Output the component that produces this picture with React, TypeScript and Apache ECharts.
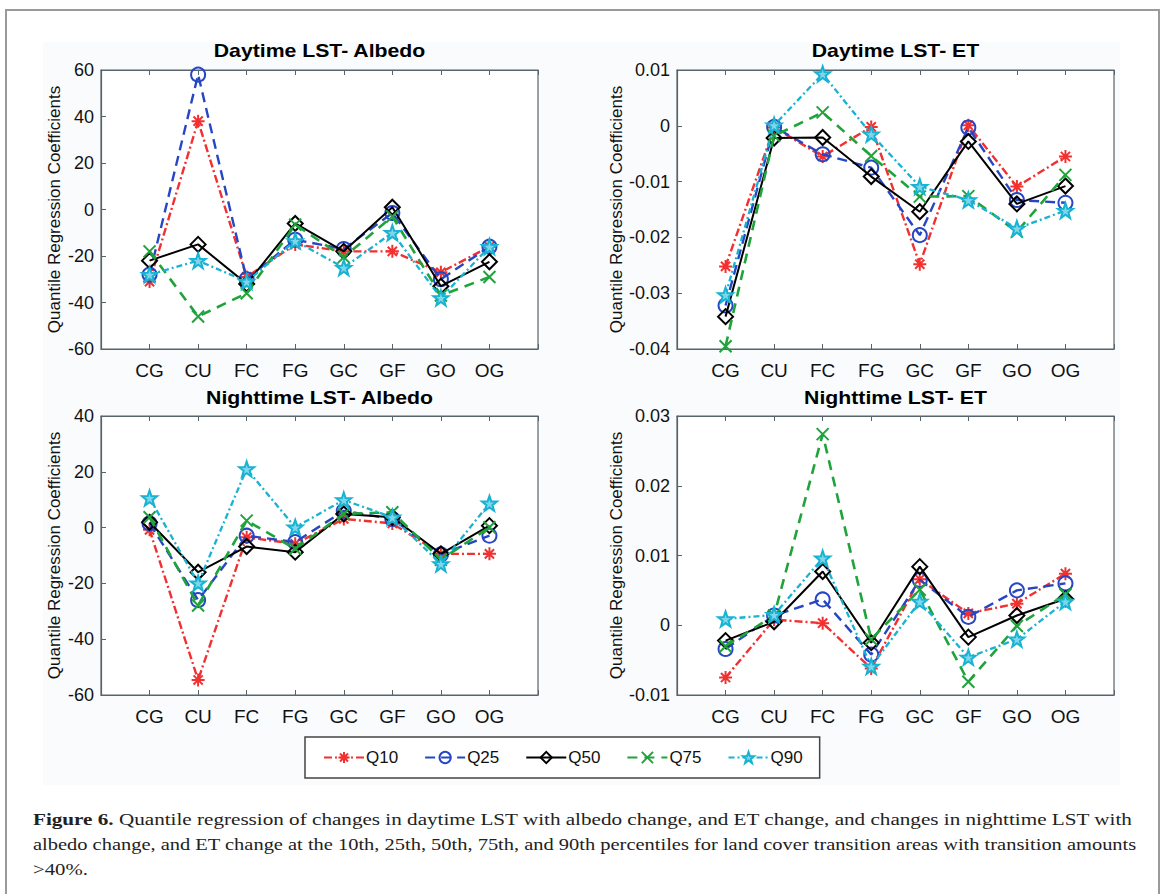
import React, { useEffect, useRef } from "react";
import * as echarts from "echarts";

const categories = ["CG", "CU", "FC", "FG", "GC", "GF", "GO", "OG"];
const quantiles = ["Q10", "Q25", "Q50", "Q75", "Q90"];

const dayAlbedoQ10 = [-31, 38, -29, -15, -18, -18, -27, -16];
const dayAlbedoQ25 = [-28, 58, -30, -13, -17, -1.5, -30, -16];
const dayAlbedoQ50 = [-22, -15, -32, -6, -18, 1, -33, -22.5];
const dayAlbedoQ75 = [-18, -46, -36, -6.5, -20.5, -3, -37, -29];
const dayAlbedoQ90 = [-28, -22, -31, -13.5, -25, -10, -38, -16];

const dayETQ10 = [-0.0252, -0.0003, -0.0055, -0.0002, -0.0248, 0.0001, -0.0109, -0.0055];
const dayETQ25 = [-0.0322, -0.0002, -0.0051, -0.0075, -0.0196, -0.0003, -0.0133, -0.0138];
const dayETQ50 = [-0.0342, -0.0022, -0.0021, -0.0091, -0.0154, -0.0028, -0.014, -0.0108];
const dayETQ75 = [-0.0395, -0.0018, 0.0024, -0.0054, -0.0127, -0.0126, -0.019, -0.0088];
const dayETQ90 = [-0.0303, 0.0001, 0.0093, -0.0015, -0.0109, -0.0133, -0.0184, -0.0152];

const nightAlbedoQ10 = [-0.8, -54.6, -3.5, -5.8, 3.1, 1.5, -9.4, -9.4];
const nightAlbedoQ25 = [1.5, -26, -2.9, -5.2, 6, 3.1, -9.6, -2.9];
const nightAlbedoQ50 = [1.9, -16, -6.8, -8.8, 4.9, 3.7, -9.4, 0.7];
const nightAlbedoQ75 = [3.7, -27.9, 2.5, -7.6, 4.9, 5.5, -11.5, 0.1];
const nightAlbedoQ90 = [10.6, -19.9, 21, 0.1, 9.9, 3.7, -13, 8.7];

const nightETQ10 = [-0.0075, 0.0008, 0.0003, -0.0062, 0.0066, 0.0017, 0.0031, 0.0074];
const nightETQ25 = [-0.0034, 0.0014, 0.0037, -0.0042, 0.0065, 0.0012, 0.005, 0.006];
const nightETQ50 = [-0.0022, 0.0005, 0.0077, -0.0025, 0.0084, -0.0017, 0.0014, 0.0038];
const nightETQ75 = [-0.003, 0.0014, 0.0274, -0.002, 0.0051, -0.0081, -0.0001, 0.0044];
const nightETQ90 = [0.0009, 0.0015, 0.0096, -0.0059, 0.0034, -0.0046, -0.002, 0.0034];

const panelTitles = ["Daytime LST- Albedo", "Daytime LST- ET", "Nighttime LST- Albedo", "Nighttime LST- ET"];
const panelData = [
  [dayAlbedoQ10, dayAlbedoQ25, dayAlbedoQ50, dayAlbedoQ75, dayAlbedoQ90],
  [dayETQ10, dayETQ25, dayETQ50, dayETQ75, dayETQ90],
  [nightAlbedoQ10, nightAlbedoQ25, nightAlbedoQ50, nightAlbedoQ75, nightAlbedoQ90],
  [nightETQ10, nightETQ25, nightETQ50, nightETQ75, nightETQ90],
];
const yMin = [-60, -0.04, -60, -0.01];
const yMax = [60, 0.01, 40, 0.03];
const yStep = [20, 0.01, 20, 0.01];

const captionLines = [
  "{b|Figure 6.} Quantile regression of changes in daytime LST with albedo change, and ET change, and changes in nighttime LST with",
  "albedo change, and ET change at the 10th, 25th, 50th, 75th, and 90th percentiles for land cover transition areas with transition amounts",
  ">40%.",
];
const captionStretch = [1.244, 1.203, 1.22];

const asteriskPath = "path://M0,-10L0,10M-10,0L10,0M-7.07,-7.07L7.07,7.07M-7.07,7.07L7.07,-7.07";
const crossPath = "path://M-10,-10L10,10M-10,10L10,-10";
const starPath =
  "path://M0,-10L2.35,-3.24L9.51,-3.09L3.8,1.24L5.88,8.09L0,4L-5.88,8.09L-3.8,1.24L-9.51,-3.09L-2.35,-3.24Z";

const styles = [
  { color: "#f23030", dash: [8, 3, 2, 3], symbol: asteriskPath, size: 13, fill: "rgba(0,0,0,0)", width: 2.4 },
  { color: "#2646c4", dash: [10, 6], symbol: "circle", size: 14, fill: "rgba(0,0,0,0)", width: 2.4 },
  { color: "#000000", dash: "solid", symbol: "diamond", size: 15, fill: "rgba(0,0,0,0)", width: 2 },
  { color: "#1fa33a", dash: [10, 7], symbol: crossPath, size: 12, fill: "rgba(0,0,0,0)", width: 2.6 },
  { color: "#18b2d2", dash: [6, 3, 2, 3], symbol: starPath, size: 15, fill: "#7fd6ea", width: 2.3 },
];

const grids = [
  { left: 101, top: 70, width: 437, height: 279 },
  { left: 677, top: 70, width: 437, height: 279 },
  { left: 101, top: 416, width: 437, height: 279 },
  { left: 677, top: 416, width: 437, height: 279 },
];

const FONT = "'Liberation Sans', Arial, Helvetica, sans-serif";
const SERIF = "'Liberation Serif', 'Times New Roman', serif";
const AXIS_COLOR = "#56656c";

export default function App() {
  const ref = useRef<HTMLDivElement>(null);
  useEffect(() => {
    if (!ref.current) return;
    const chart = echarts.init(ref.current, undefined, { renderer: "svg" });
    const xCats = ["", ...categories, ""];
    const xAxis: any[] = [];
    const yAxis: any[] = [];
    const series: any[] = [];
    grids.forEach((g, i) => {
      xAxis.push({
        type: "category",
        gridIndex: i,
        data: xCats,
        boundaryGap: false,
        axisLine: { onZero: false, lineStyle: { color: AXIS_COLOR, width: 1.2 } },
        axisTick: { inside: true, length: 5, interval: 0, lineStyle: { color: AXIS_COLOR } },
        axisLabel: { interval: 0, fontSize: 19, color: "#111", margin: 12, fontFamily: FONT },
        splitLine: { show: false },
      });
      xAxis.push({
        type: "category",
        gridIndex: i,
        position: "top",
        data: xCats,
        boundaryGap: false,
        axisLine: { onZero: false, lineStyle: { color: AXIS_COLOR, width: 1.2 } },
        axisTick: { inside: true, length: 5, interval: 0, lineStyle: { color: AXIS_COLOR } },
        axisLabel: { show: false },
        splitLine: { show: false },
      });
      yAxis.push({
        type: "value",
        gridIndex: i,
        min: yMin[i],
        max: yMax[i],
        interval: yStep[i],
        axisLine: { show: true, onZero: false, lineStyle: { color: AXIS_COLOR, width: 1.2 } },
        axisTick: { show: true, inside: true, length: 5, lineStyle: { color: AXIS_COLOR } },
        axisLabel: {
          fontSize: 18,
          color: "#111",
          margin: 7,
          fontFamily: FONT,
          formatter: (v: number) => String(Number(v.toFixed(3))),
        },
        splitLine: { show: false },
        name: "Quantile Regression Coefficients",
        nameLocation: "middle",
        nameGap: i % 2 === 0 ? 38 : 52,
        nameTextStyle: { fontSize: 17, color: "#111", fontFamily: FONT },
      });
      panelData[i].forEach((vals, q) => {
        const s = styles[q];
        series.push({
          type: "line",
          name: quantiles[q],
          xAxisIndex: i * 2,
          yAxisIndex: i,
          data: [null, ...vals, null],
          symbol: s.symbol,
          symbolSize: s.size,
          showAllSymbol: true,
          lineStyle: { color: s.color, width: s.width, type: s.dash },
          itemStyle: { color: s.fill, borderColor: s.color, borderWidth: 2 },
          emphasis: { disabled: true },
          z: 3 + q,
        });
      });
    });

    const graphic: any[] = [
      {
        type: "rect",
        z: -10,
        shape: { x: 43, y: 42, width: 1077, height: 743 },
        style: { fill: "#f9fbfd" },
      },
      {
        type: "rect",
        z: -9,
        shape: { x: 6, y: 10, width: 1153, height: 900 },
        style: { fill: "none", stroke: "#9a9a9a", lineWidth: 2 },
      },
    ];
    grids.forEach((g, i) => {
      graphic.push({
        type: "text",
        x: g.left + g.width / 2,
        y: i < 2 ? 51 : 398,
        originX: 0,
        originY: 0,
        scaleX: 1.18,
        style: {
          text: panelTitles[i],
          font: `bold 18px ${FONT}`,
          fill: "#000",
          align: "center",
          verticalAlign: "middle",
        },
      });
    });
    captionLines.forEach((t, k) => {
      graphic.push({
        type: "text",
        x: 33,
        y: 819 + k * 25,
        originX: 0,
        originY: 0,
        scaleX: captionStretch[k],
        style: {
          text: t,
          fontFamily: SERIF,
          fontSize: 17,
          fill: "#222",
          align: "left",
          verticalAlign: "middle",
          rich: {
            b: { fontFamily: SERIF, fontSize: 17, fontWeight: "bold", fill: "#222" },
          },
        },
      });
    });

    chart.setOption({
      animation: false,
      backgroundColor: "#ffffff",
      grid: grids.map((g) => ({
        ...g,
        show: true,
        backgroundColor: "#ffffff",
        borderColor: AXIS_COLOR,
        borderWidth: 1.2,
        containLabel: false,
      })),
      xAxis,
      yAxis,
      series,
      legend: {
        data: quantiles,
        left: 305,
        top: 737,
        orient: "horizontal",
        padding: [12, 17, 12, 18],
        itemGap: 26,
        itemWidth: 40,
        itemHeight: 14,
        backgroundColor: "#ffffff",
        borderColor: "#444",
        borderWidth: 1.5,
        borderRadius: 0,
        selectedMode: false,
        textStyle: { fontSize: 17, color: "#111", fontFamily: FONT, padding: [0, 0, 0, -3] },
      },
      graphic,
    });
    return () => chart.dispose();
  }, []);
  return (
    <div
      ref={ref}
      style={{ position: "absolute", left: 0, top: 0, width: 1167, height: 894 }}
    />
  );
}
